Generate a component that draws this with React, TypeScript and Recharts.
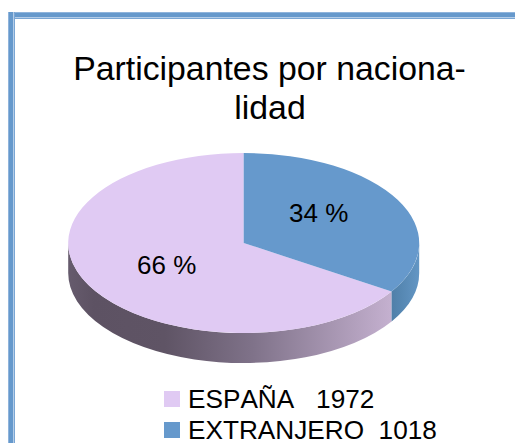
import React from 'react';
import { PieChart, Pie, Cell, Legend } from 'recharts';

const categories = ['ESPAÑA', 'EXTRANJERO'];
const counts = [1972, 1018];
const legendGaps = ['   ', '  '];
const titleLines = ['Participantes por naciona-', 'lidad'];

const COLORS = ['#e0caf3', '#6699cc'];
const WALLS = ['url(#wallLilac)', 'url(#wallBlue)'];

const data = categories.map((name, i) => ({ name, value: counts[i] }));

const WIDTH = 515;
const HEIGHT = 443;
const CX = 243.7;
const CY = 243;
const RX = 175.5;
const RY = 90;
const DEPTH = 30;
const RAD = Math.PI / 180;
const FONT = '"Liberation Sans", Arial, sans-serif';

// recharts hands over the angles, the disc is squashed here to look like the 3D pie
const Slice = (props: any) => {
  const { cx, cy, startAngle, endAngle, fill, index } = props;
  const px = (a: number) => cx + RX * Math.cos(a * RAD);
  const py = (a: number) => cy - RY * Math.sin(a * RAD);
  const large = Math.abs(endAngle - startAngle) > 180 ? 1 : 0;
  const top = `M${cx},${cy} L${px(startAngle)},${py(startAngle)} A${RX},${RY} 0 ${large} 0 ${px(endAngle)},${py(endAngle)} Z`;

  // only the part of the rim in the front half (180..360) shows
  const from = Math.max(startAngle, 180);
  const to = Math.min(endAngle, 360);
  const wall =
    to > from
      ? `M${px(from)},${py(from)} A${RX},${RY} 0 0 0 ${px(to)},${py(to)} L${px(to)},${py(to) + DEPTH} A${RX},${RY} 0 0 1 ${px(from)},${py(from) + DEPTH} Z`
      : null;

  return (
    <g>
      {wall && <path d={wall} fill={WALLS[index]} />}
      <path d={top} fill={fill} />
    </g>
  );
};

const renderLabel = (props: any) => {
  const { cx, cy, midAngle, percent, index } = props;
  const x = cx + RX * 0.5 * Math.cos(midAngle * RAD) + (index === 1 ? -2 : 0);
  const y = cy - RY * 0.5 * Math.sin(midAngle * RAD) + (index === 1 ? -8 : 0);
  return (
    <text x={x} y={y} textAnchor="middle" dominantBaseline="central" fill="#000" fontSize={26} fontFamily={FONT} style={{ fontKerning: 'none' }}>
      {`${Math.round(percent * 100)} %`}
    </text>
  );
};

const renderLegend = () => (
  <div style={{ fontFamily: FONT, fontSize: 26.2, lineHeight: '26px', color: '#000', fontKerning: 'none' }}>
    {categories.map((name, i) => (
      <div key={name} style={{ display: 'flex', alignItems: 'center', whiteSpace: 'pre', marginBottom: i === 0 ? 5 : 0 }}>
        <span style={{ width: 16, height: 16, marginRight: 8, background: COLORS[i] }} />
        {`${name}${legendGaps[i]}${counts[i]}`}
      </div>
    ))}
  </div>
);

export default function App() {
  return (
    <div style={{ position: 'fixed', left: 0, top: 0, width: WIDTH, height: HEIGHT, background: '#fff', overflow: 'hidden' }}>
      <div style={{ position: 'absolute', left: 8, top: 12, width: 507, height: 7, background: 'linear-gradient(#8fb4dc 0 1px, #6699cc 1px 5px, #b4cde8 5px 6px, #7aa6d4 6px)' }} />
      <div style={{ position: 'absolute', left: 8, top: 12, width: 7, height: 431, background: 'linear-gradient(90deg, #8fb4dc 0 1px, #6699cc 1px 5px, #b4cde8 5px 6px, #7aa6d4 6px)' }} />
      <PieChart width={WIDTH} height={HEIGHT} margin={{ top: 0, right: 0, bottom: 0, left: 0 }}>
        <defs>
          <linearGradient id="wallLilac" gradientUnits="userSpaceOnUse" x1={68} y1={0} x2={391} y2={0}>
            <stop offset="0" stopColor="#665b6d" />
            <stop offset="0.08" stopColor="#5d5263" />
            <stop offset="0.3" stopColor="#5f5465" />
            <stop offset="0.57" stopColor="#7f7289" />
            <stop offset="1" stopColor="#c4b0cf" />
          </linearGradient>
          <linearGradient id="wallBlue" gradientUnits="userSpaceOnUse" x1={391} y1={0} x2={419} y2={0}>
            <stop offset="0" stopColor="#4f7fa8" />
            <stop offset="1" stopColor="#6396c4" />
          </linearGradient>
        </defs>
        <text x={269.5} y={68} textAnchor="middle" dominantBaseline="central" fill="#000" fontSize={33.8} fontFamily={FONT} style={{ fontKerning: 'none' }}>
          {titleLines[0]}
        </text>
        <text x={270} y={107} textAnchor="middle" dominantBaseline="central" fill="#000" fontSize={33.8} fontFamily={FONT} style={{ fontKerning: 'none' }}>
          {titleLines[1]}
        </text>
        <Pie
          data={data}
          dataKey="value"
          nameKey="name"
          cx={CX}
          cy={CY}
          outerRadius={RX}
          startAngle={90}
          endAngle={450}
          stroke="none"
          shape={Slice}
          label={renderLabel}
          labelLine={false}
          isAnimationActive={false}
        >
          {data.map((entry, index) => (
            <Cell key={`cell-${index}`} fill={COLORS[index]} />
          ))}
        </Pie>
        <Legend content={renderLegend} wrapperStyle={{ position: 'absolute', left: 164, top: 386, width: 320, bottom: 'auto' }} />
      </PieChart>
    </div>
  );
}
